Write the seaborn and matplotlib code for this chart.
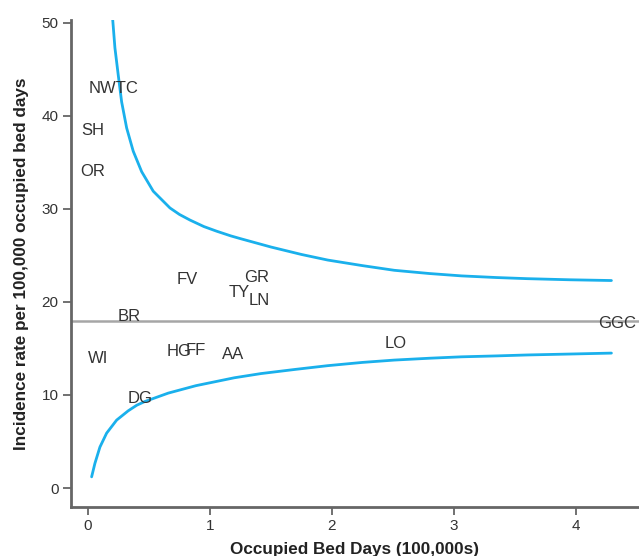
import matplotlib
matplotlib.use("Agg")
import matplotlib.pyplot as plt
import seaborn as sns
import pandas as pd

# Hospitals: occupied bed days (100,000s) and incidence rate per 100,000 bed days
codes = ["NWTC", "SH", "OR", "FV", "GR", "TY", "LN", "BR", "WI",
         "HG", "FF", "AA", "DG", "LO", "GGC"]
bed_days = [0.213, 0.04, 0.04, 0.81, 1.38, 1.24, 1.40, 0.336, 0.08,
            0.75, 0.885, 1.19, 0.426, 2.52, 4.34]
rates = [42.9, 38.4, 34.0, 22.4, 22.6, 21.0, 20.1, 18.4, 13.9,
         14.7, 14.8, 14.4, 9.6, 15.5, 17.7]

# Overall mean rate
mean_rate = 18.0

# Upper control limit
upper_x = [0.203, 0.221, 0.248, 0.276, 0.317, 0.371, 0.44, 0.535, 0.672,
           0.75, 0.836, 0.95, 1.055, 1.17, 1.25, 1.5, 1.75, 1.965, 2.25,
           2.51, 2.8, 3.06, 3.35, 3.6, 3.95, 4.29]
upper_y = [50.3, 47.3, 44.4, 41.5, 38.7, 36.2, 34.0, 31.9, 30.1,
           29.4, 28.8, 28.1, 27.6, 27.1, 26.8, 25.9, 25.1, 24.5, 23.9,
           23.4, 23.05, 22.8, 22.62, 22.5, 22.38, 22.3]

# Lower control limit
lower_x = [0.03, 0.057, 0.098, 0.153, 0.235, 0.33, 0.4, 0.467, 0.658, 0.885,
           1.2, 1.418, 1.7, 1.965, 2.25, 2.51, 2.8, 3.06, 3.35, 3.6,
           3.95, 4.29]
lower_y = [1.2, 2.65, 4.4, 5.9, 7.3, 8.3, 8.9, 9.3, 10.2, 11.0,
           11.85, 12.3, 12.75, 13.15, 13.5, 13.75, 13.95, 14.1, 14.2, 14.3,
           14.4, 14.5]

x_ticks = [0, 1, 2, 3, 4]
y_ticks = [0, 10, 20, 30, 40, 50]

sns.set_style("ticks")
plt.rcParams["font.family"] = ["Liberation Sans", "DejaVu Sans"]

fig = plt.figure(figsize=(6.39, 5.56), dpi=100)
W, H = 639, 556
ax = fig.add_axes([71 / W, 49 / H, (W - 71) / W, (507 - 20) / H])

curve_color = "#1AB0EC"
upper_df = pd.DataFrame({"x": upper_x, "y": upper_y})
lower_df = pd.DataFrame({"x": lower_x, "y": lower_y})
sns.lineplot(data=upper_df, x="x", y="y", ax=ax, color=curve_color,
             linewidth=2.0, sort=False, estimator=None)
sns.lineplot(data=lower_df, x="x", y="y", ax=ax, color=curve_color,
             linewidth=2.0, sort=False, estimator=None)
ax.axhline(mean_rate, color="#A6A6A6", linewidth=1.8, zorder=1)

for code, xv, yv in zip(codes, bed_days, rates):
    ax.text(xv, yv, code, ha="center", va="center", fontsize=12,
            color="#333333", zorder=3)

ax.set_xlim(-0.139, 4.516)
ax.set_ylim(-2.04, 50.3)
ax.set_xticks(x_ticks)
ax.set_yticks(y_ticks)

for side in ["top", "right"]:
    ax.spines[side].set_visible(False)
for side in ["left", "bottom"]:
    ax.spines[side].set_color("#666666")
    ax.spines[side].set_linewidth(2.0)
ax.tick_params(axis="both", colors="#666666", length=6, width=1.3,
               labelsize=11, labelcolor="#333333", pad=3)

ax.set_xlabel("Occupied Bed Days (100,000s)", fontsize=12.3, fontweight="bold",
              color="#222222", labelpad=6)
ax.set_ylabel("Incidence rate per 100,000 occupied bed days", fontsize=12.3,
              fontweight="bold", color="#222222", labelpad=9)

fig.savefig("out.png", dpi=100)
